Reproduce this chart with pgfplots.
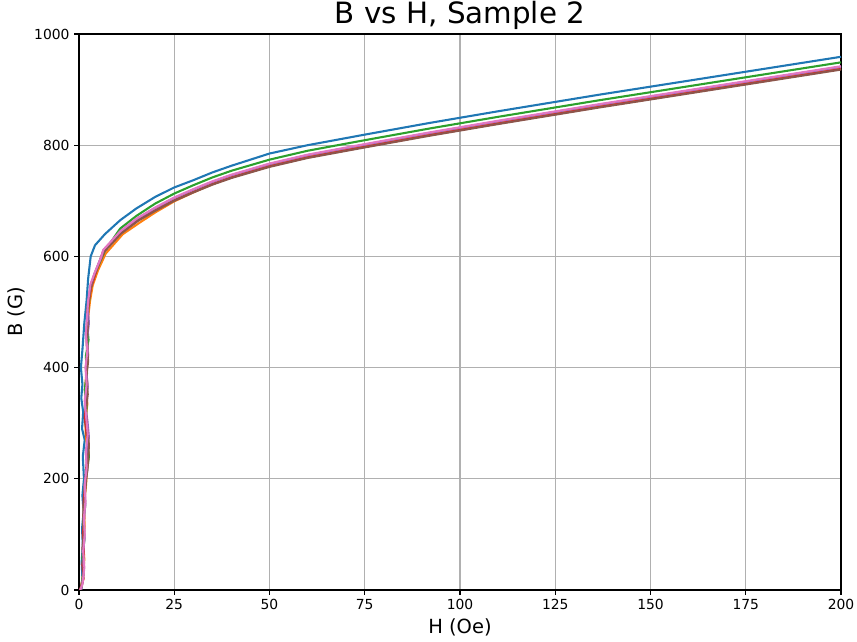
\documentclass[border=0pt]{standalone}
\usepackage{fontspec}
\setmainfont{DejaVu Sans}
\usepackage{pgfplots}
\pgfplotsset{compat=1.18}
\definecolor{C0}{HTML}{1F77B4}
\definecolor{C1}{HTML}{FF7F0E}
\definecolor{C2}{HTML}{2CA02C}
\definecolor{C3}{HTML}{D62728}
\definecolor{C4}{HTML}{9467BD}
\definecolor{C5}{HTML}{8C564B}
\definecolor{C6}{HTML}{E377C2}
\definecolor{gridgray}{HTML}{B0B0B0}
\begin{document}
\begin{tikzpicture}
\begin{axis}[
  name=ax,
  scale only axis,
  width=571.5pt, height=417pt,
  xmin=0, xmax=200, ymin=0, ymax=1000,
  xtick={0,25,...,200}, ytick={0,200,...,1000},
  grid=major,
  grid style={color=gridgray, line width=0.83pt},
  axis line style={black, line width=0.83pt},
  tick style={black, line width=0.83pt},
  major tick length=3.6pt,
  tick align=outside,
  tick pos=left,
  /pgf/number format/assume math mode=true,
  /pgf/number format/1000 sep={},
  ticklabel style={font=\fontsize{10.4}{12}\selectfont},
  label style={font=\fontsize{14.6}{17}\selectfont},
  xlabel={H (Oe)}, ylabel={B (G)},
  title={B vs H, Sample 2},
  title style={font=\fontsize{22}{26}\selectfont, at={(0.5,1)}, anchor=south, inner sep=0pt, yshift=-3pt},
  every axis plot/.append style={line width=1.56pt, line join=round},
]
\addplot[C0] table {
0.5 0
0.9 20
0.7 50
1.0 80
0.8 110
1.2 140
0.9 170
1.3 200
1.0 240
1.5 270
0.8 290
1.1 320
0.6 345
0.9 370
0.5 400
0.9 432
1.4 480
2.0 521
2.4 560
3.07 600
4.2 620
6.8 640
10.8 665
15 686
20 707
25 724
30 737
35 751
40 763
45 774
50 785
60 800
75 819
92 840
110 861
136.7 891
160 916
200 959
};
\addplot[C1] table {
0.4 0
1.0 25
1.4 55
1.1 85
1.5 115
1.2 150
1.8 185
2.1 215
2.5 245
1.8 275
1.7 305
2.2 335
1.6 365
2.0 395
2.4 425
2.0 455
2.4 490
2.9 520
3.6 548
5.0 575
7.0 605
11.5 640
16 661
20 679
25 699
30 715
35 730
40 742
45 753
50 763
60 779
75 798
92 819
110 840
136.7 870
160 895
200 938
};
\addplot[C2] table {
0.5 0
1.1 30
0.9 60
1.4 90
1.1 120
1.6 150
1.3 180
2.0 210
2.6 240
2.2 270
1.7 300
2.0 330
1.5 360
2.1 390
1.8 420
2.5 450
2.1 480
2.5 510
3.0 540
4.0 565
5.5 590
6.8 610
10.8 650
15.1 673
20 695
25 713
30 728
35 742
40 754
45 764
50 774
60 790
75 809
92 830
110 851
136.7 881
160 906
200 949
};
\addplot[C3] table {
0.3 0
1.2 20
0.9 45
1.3 70
1.0 100
1.4 130
1.2 160
1.6 190
1.9 220
2.3 250
2.0 280
1.5 310
1.9 340
2.2 370
1.8 400
2.3 430
1.9 460
2.2 490
2.6 520
3.2 545
4.6 575
6.4 611
10.8 642
15.1 664
20 683
25 701
30 716
35 730
40 742
45 752
50 762
60 778
75 797
92 818
110 839
136.7 869
160 894
200 937
};
\addplot[C4] table {
0.6 0
1.3 35
1.0 65
1.5 95
1.2 125
1.7 155
1.4 185
2.2 215
2.0 245
2.6 275
2.2 305
1.6 335
2.3 365
1.9 395
2.4 420
2.1 450
2.6 480
2.3 510
2.9 540
4.0 568
5.3 590
6.5 610
10.8 644
15.1 667
20 687
25 705
30 720
35 734
40 746
45 756
50 766
60 782
75 801
92 822
110 843
136.7 873
160 898
200 941
};
\addplot[C5] table {
0.4 0
1.0 15
1.3 45
0.9 75
1.3 105
1.1 135
1.5 165
1.9 200
2.4 230
2.6 262
2.1 292
1.8 322
2.3 352
1.9 382
2.4 412
2.0 442
2.3 472
2.1 500
2.7 530
3.4 555
4.8 580
6.6 608
11 641
15.5 664
20 682
25 700
30 715
35 729
40 741
45 751
50 761
60 777
75 796
92 817
110 838
136.7 868
160 893
200 936
};
\addplot[C6] table {
0.3 0
0.9 10
1.4 40
1.1 70
1.5 100
1.3 130
1.7 160
1.5 190
2.0 220
1.8 250
2.3 280
1.9 310
1.5 340
2.0 370
1.7 400
2.2 430
1.8 460
2.1 490
2.4 520
3.0 550
4.2 572
5.8 598
6.4 612
10.8 645
15.1 668
20 688
25 706
30 721
35 735
40 747
45 757
50 767
60 783
75 802
92 823
110 844
136.7 874
160 899
200 942
};
\end{axis}
\pgfresetboundingbox
\path ([shift={(-59.25pt,-39pt)}]ax.south west) rectangle ([shift={(12pt,25.5pt)}]ax.north east);
\end{tikzpicture}
\end{document}
